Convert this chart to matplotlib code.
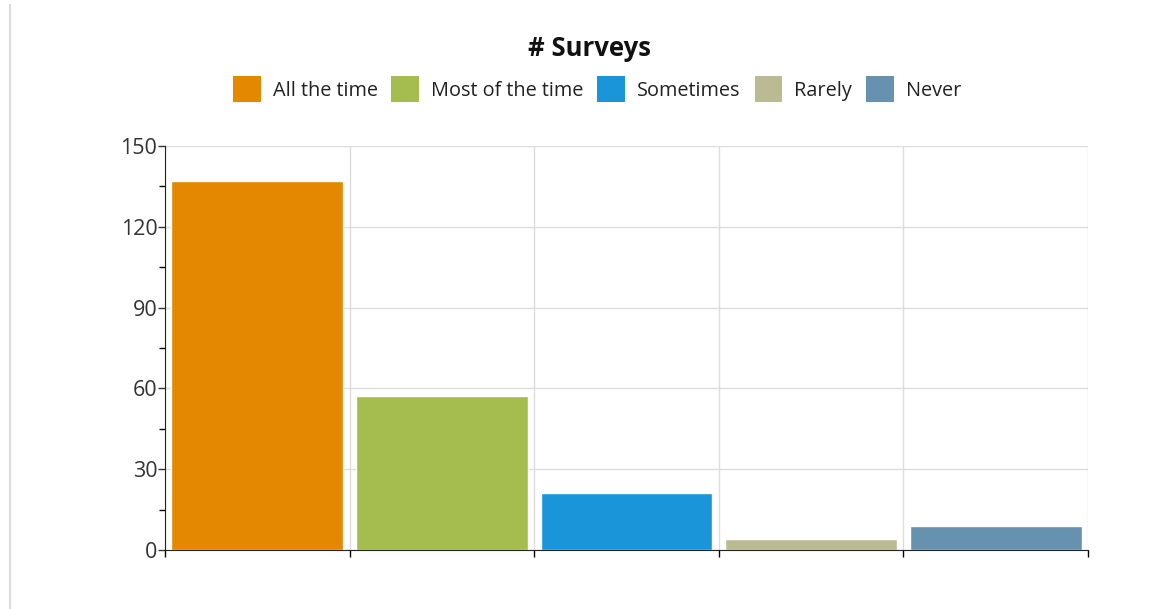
import matplotlib.pyplot as plt
from matplotlib.patches import Patch
from matplotlib.lines import Line2D

plt.rcParams['font.family'] = ['Open Sans', 'DejaVu Sans']

categories = ['All the time', 'Most of the time', 'Sometimes', 'Rarely', 'Never']
surveys = [137, 57, 21, 4, 9]
colors = ['#E38800', '#A5BC4E', '#1B95D9', '#BABB92', '#6692B0']
y_ticks = [0, 30, 60, 90, 120, 150]

fig = plt.figure(figsize=(11.56, 6.09), dpi=100)
ax = fig.add_axes([165 / 1156, 1 - 550 / 609, 923 / 1156, 404 / 609])

x = range(len(categories))
ax.bar(x, surveys, width=0.93, color=colors, edgecolor='white', linewidth=1, zorder=2)

ax.set_xlim(-0.5, len(categories) - 0.5)
ax.set_ylim(0, 150)
ax.set_xticks([i - 0.5 for i in range(len(categories) + 1)])
ax.set_xticklabels([])
ax.set_yticks(y_ticks)
ax.set_yticks([15, 45, 75, 105, 135], minor=True)
ax.tick_params(axis='y', labelsize=15.5, colors='#333333', length=5, width=1, pad=0.5)
ax.tick_params(axis='y', which='minor', length=4, width=1)
ax.tick_params(axis='x', length=5, width=1)
ax.grid(True, color='#dddddd', linewidth=1, zorder=0)
for s in ['top', 'right']:
    ax.spines[s].set_visible(False)
ax.spines['left'].set_color('#222222')
ax.spines['bottom'].set_color('#222222')

fig.text(590 / 1156, 1 - 48 / 609, '# Surveys', ha='center', va='center',
         fontsize=18.5, fontweight='bold', color='#111111')

handles = [Patch(facecolor=c, edgecolor='none') for c in colors]
fig.legend(handles, categories, loc='center', bbox_to_anchor=(597 / 1156, 1 - 89 / 609),
           ncol=5, frameon=False, fontsize=14.3, handlelength=1.4, handleheight=1.6,
           handletextpad=0.6, columnspacing=0.7, labelcolor='#222222')

# card border on the left
fig.add_artist(Line2D([10 / 1156, 10 / 1156], [0, 1 - 5 / 609], color='#dddddd', linewidth=1.5))

fig.savefig('out.png', dpi=100)
